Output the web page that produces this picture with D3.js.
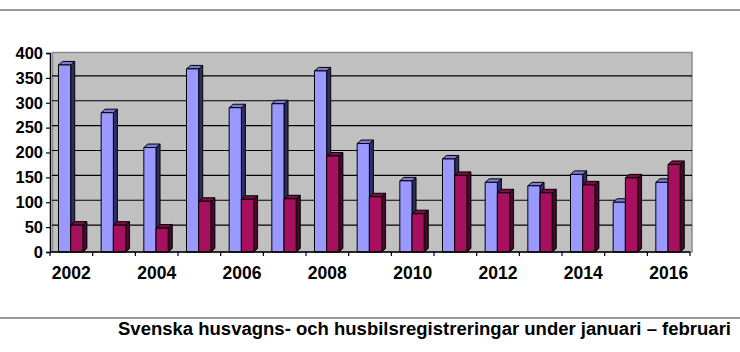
<!DOCTYPE html>
<html><head><meta charset="utf-8">
<script src="https://cdn.jsdelivr.net/npm/d3@7"></script>
<style>body{margin:0;background:#fff}svg{display:block}</style>
</head><body>
<svg id="c" width="740" height="352"></svg>
<script>
const years = ["2002","2003","2004","2005","2006","2007","2008","2009","2010","2011","2012","2013","2014","2015","2016"];
const husvagnar = [376,280,210,368,290,298,364,218,143,187,140,133,156,100,140];
const husbilar  = [54,54,48,102,106,107,193,111,77,154,119,119,135,149,176];
const yTicks = [0,50,100,150,200,250,300,350,400];
const xLabels = ["2002","2004","2006","2008","2010","2012","2014","2016"];
const caption = "Svenska husvagns- och husbilsregistreringar under januari \u2013 februari";

const svg = d3.select("#c");
const pL = 50, pR = 690, pT = 53, pB = 252;
const dx = 4, dy = 3.5;

const x = d3.scaleBand().domain(years).range([pL, pR]).padding(0);
const y = d3.scaleLinear().domain([0, 400]).range([pB, pT]);

// frame lines
svg.append("line").attr("x1",0).attr("x2",740).attr("y1",10).attr("y2",10)
  .attr("stroke","#777").attr("stroke-width",1.6);
svg.append("line").attr("x1",0).attr("x2",740).attr("y1",318).attr("y2",318)
  .attr("stroke","#777").attr("stroke-width",1.6);

// back wall
svg.append("rect").attr("x", pL + 2.5).attr("y", pT - 0.5)
  .attr("width", 692 - pL - 2.5).attr("height", pB - pT + 0.5)
  .attr("fill", "#c0c0c0").attr("stroke", "#8a8a8a").attr("stroke-width", 1.5);

// gridlines
svg.append("g").selectAll("line").data(yTicks.filter(v => v > 0 && v < 400)).join("line")
  .attr("x1", pL + 2).attr("x2", 692)
  .attr("y1", d => y(d) - 2).attr("y2", d => y(d) - 2)
  .attr("stroke", "#000").attr("stroke-width", 1.2);

// bars
const bw = 12.2, off = 8.5;
const series = [
  {vals: husvagnar, front: "#9999ff", topc: "#7b7bdc", side: "#2e2e66"},
  {vals: husbilar, front: "#a6105f", topc: "#7e0c46", side: "#45072a"}
];
const gb = svg.append("g");
years.forEach((yr, i) => {
  series.forEach((s, k) => {
    const x0 = x(yr) + off + k * bw;
    const x1 = x0 + bw;
    const yt = y(s.vals[i]);
    const yb = pB;
    const g = gb.append("g").attr("stroke", "#000").attr("stroke-width", 1).attr("stroke-linejoin","round");
    g.append("path").attr("d", `M${x1},${yb} L${x1+dx},${yb-dy} L${x1+dx},${yt-dy} L${x1},${yt} Z`).attr("fill", s.side);
    g.append("path").attr("d", `M${x0},${yt} L${x0+dx},${yt-dy} L${x1+dx},${yt-dy} L${x1},${yt} Z`).attr("fill", s.topc);
    g.append("rect").attr("x", x0).attr("y", yt).attr("width", bw).attr("height", yb - yt).attr("fill", s.front);
  });
});

// y axis
const ya = svg.append("g").attr("transform", `translate(${pL},0)`)
  .call(d3.axisLeft(y).tickValues(yTicks).tickSize(4).tickPadding(3));
ya.select(".domain").attr("stroke","#000").attr("stroke-width",1.5);
ya.selectAll(".tick line").attr("stroke","#000").attr("stroke-width",1.2);
ya.selectAll("text").attr("font-family","Liberation Sans, Arial, sans-serif")
  .attr("font-weight","bold").attr("font-size","16.5px").attr("fill","#000");

// x axis
const xa = svg.append("g").attr("transform", `translate(0,${pB})`);
xa.append("line").attr("x1", pL).attr("x2", pR).attr("y1",0).attr("y2",0)
  .attr("stroke","#000").attr("stroke-width",1.5);
xa.selectAll("line.t").data(d3.range(years.length + 1)).join("line").attr("class","t")
  .attr("x1", d => pL + d * x.bandwidth()).attr("x2", d => pL + d * x.bandwidth())
  .attr("y1", 0).attr("y2", 4).attr("stroke","#000").attr("stroke-width",1.2);
xa.selectAll("text").data(xLabels).join("text")
  .attr("x", d => x(d) + x.bandwidth()/2).attr("y", 26.5)
  .attr("text-anchor","middle")
  .attr("font-family","Liberation Sans, Arial, sans-serif").attr("font-weight","bold")
  .attr("font-size","17.5px").attr("fill","#000").text(d => d);

// caption
svg.append("text").attr("x", 118).attr("y", 335)
  .attr("font-family","Liberation Sans, Arial, sans-serif").attr("font-weight","bold")
  .attr("font-size","17.5px").attr("fill","#000")
  .attr("textLength", 613).attr("lengthAdjust", "spacingAndGlyphs").text(caption);
</script>
</body></html>
